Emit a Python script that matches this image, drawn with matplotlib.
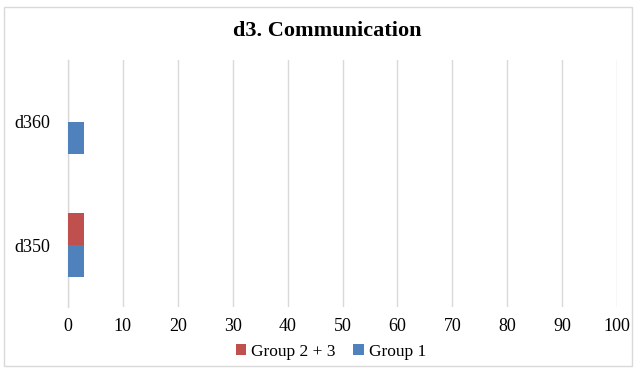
import matplotlib
matplotlib.use("Agg")
import matplotlib.pyplot as plt
from matplotlib.patches import Rectangle
import numpy as np

categories = ["d350", "d360"]
group1 = [3, 3]
group23 = [3, 0]
xticks = [0, 10, 20, 30, 40, 50, 60, 70, 80, 90, 100]

blue = "#4F81BD"
red = "#C0504D"
serif = ["Liberation Serif", "DejaVu Serif"]

fig = plt.figure(figsize=(6.4, 3.7), dpi=100)
fig.patch.set_facecolor("white")
fig.patches.append(Rectangle((4 / 640, 1 - 366 / 370), 628 / 640, 359 / 370,
                             transform=fig.transFigure, fill=False,
                             edgecolor="#D9D9D9", linewidth=1.0))

ax = fig.add_axes([68 / 640, 1 - 307 / 370, 549 / 640, 247 / 370])
y = np.arange(len(categories))
h = 0.26
ax.barh(y - h / 2, group1, height=h, color=blue, label="Group 1", zorder=3)
ax.barh(y + h / 2, group23, height=h, color=red, label="Group 2 + 3", zorder=3)

ax.set_xlim(0, 100)
ax.set_ylim(-0.5, 1.5)
ax.set_xticks(xticks)
ax.set_xticklabels([str(t) for t in xticks], fontfamily=serif, fontsize=13)
ax.set_yticks(y)
ax.set_yticklabels(categories, fontfamily=serif, fontsize=13)
ax.tick_params(length=0, pad=8)
ax.tick_params(axis="y", pad=13)
ax.grid(axis="x", color="#D9D9D9", linewidth=1.0, zorder=0)
for s in ["top", "right", "bottom"]:
    ax.spines[s].set_visible(False)
ax.spines["left"].set_color("#D9D9D9")
ax.spines["left"].set_linewidth(1.0)

fig.text(327 / 640, 1 - 31 / 370, "d3. Communication", ha="center", va="center",
         fontfamily=serif, fontweight="bold", fontsize=16)

handles, labels = ax.get_legend_handles_labels()
fig.legend(handles[::-1], labels[::-1], loc="center", bbox_to_anchor=(331 / 640, 1 - 352 / 370),
           ncol=2, frameon=False, prop={"family": serif, "size": 12.5},
           handlelength=0.6, handleheight=0.6, handletextpad=0.3, columnspacing=1.0)

fig.savefig("out.png", dpi=100, facecolor="white")
